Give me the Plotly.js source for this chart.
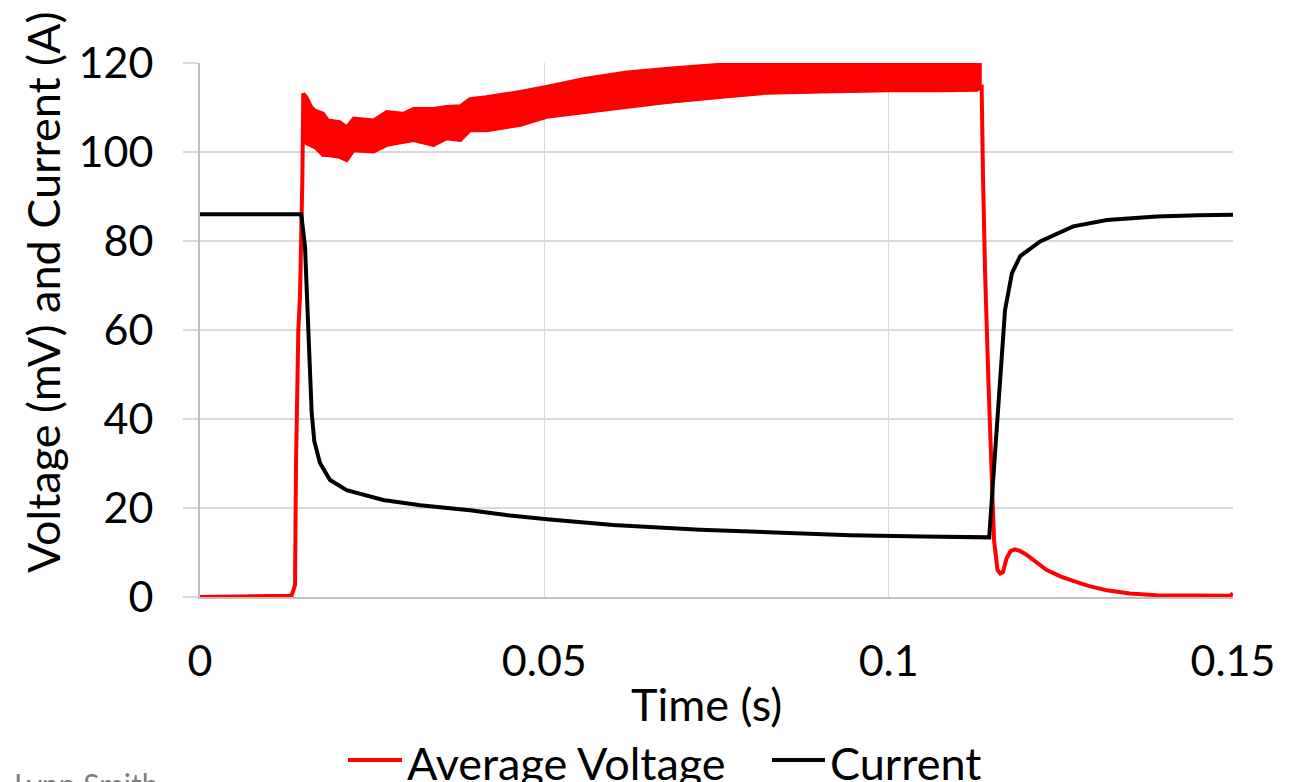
<!DOCTYPE html>
<html>
<head>
<meta charset="utf-8">
<script src="https://cdn.plot.ly/plotly-3.0.1.min.js"></script>
<style>html,body{margin:0;padding:0;background:#fff;}#chart{width:1301px;height:782px;}</style>
</head>
<body>
<div id="chart"></div>
<script>
// ---- Data ----
// Average Voltage (mV): rise before the noisy band
const voltRiseT = [0, 0.005, 0.010, 0.0133, 0.0138, 0.01394, 0.01428, 0.01452, 0.01486, 0.0150];
const voltRise  = [0, 0.1, 0.1, 0.3, 2.7, 30, 60, 67.5, 93.7, 113.2];
// Noisy band (upper / lower envelope of the oscillation)
const bandT     = [0.0150, 0.0155, 0.0162, 0.0167, 0.0179, 0.0186, 0.0203, 0.0213, 0.0223, 0.0252, 0.0271, 0.0295, 0.0310, 0.0339, 0.0358, 0.0378, 0.0392, 0.0416, 0.0465, 0.0503, 0.0560, 0.0620, 0.0680, 0.0750, 0.0820, 0.0900, 0.1000, 0.1080, 0.1128, 0.1133];
const bandUpper = [113.2, 112.4, 110.2, 109.4, 108.7, 107.2, 106.8, 105.7, 107.6, 107.2, 109.1, 108.7, 109.8, 109.8, 110.2, 110.4, 112.0, 112.4, 113.6, 114.7, 116.6, 118.0, 118.8, 119.6, 120.5, 121.0, 121.0, 121.0, 121.0, 121.0];
const bandLower = [113.2, 102.0, 101.4, 101.1, 99.3, 99.3, 98.9, 98.2, 100.4, 100.1, 101.6, 102.3, 102.7, 101.6, 103.1, 102.7, 104.9, 104.9, 106.1, 107.9, 109.0, 110.3, 111.3, 112.3, 113.3, 113.6, 113.9, 113.9, 114.0, 114.5];
// Fall and tail after the band
const voltFallT = [0.1135, 0.1137, 0.1140, 0.1145, 0.1150, 0.1153, 0.1158, 0.1162, 0.1166, 0.1171, 0.1177, 0.1183, 0.1190, 0.1200, 0.1229, 0.1250, 0.1268, 0.1290, 0.1317, 0.1350, 0.1389, 0.1450, 0.1496, 0.1500];
const voltFall  = [114.6, 94.5, 72.8, 47.8, 27.0, 12.8, 6.1, 5.3, 5.6, 8.6, 10.3, 10.7, 10.4, 9.5, 6.1, 4.6, 3.6, 2.5, 1.5, 0.8, 0.4, 0.3, 0.3, 0.8];

// Current (A)
const currT = [0, 0.005, 0.010, 0.0147, 0.01525, 0.01573, 0.01622, 0.0166, 0.01742, 0.01888, 0.0213, 0.0266, 0.0320, 0.0392, 0.0450, 0.0508, 0.0600, 0.0726, 0.0850, 0.0944, 0.1050, 0.1146, 0.1152, 0.1162, 0.1169, 0.1179, 0.1191, 0.1220, 0.1268, 0.1317, 0.1389, 0.1450, 0.1500];
const curr  = [86.0, 85.9, 86.0, 86.0, 78.7, 60.0, 41.3, 35.0, 30.1, 26.3, 24.0, 21.8, 20.6, 19.5, 18.3, 17.4, 16.2, 15.1, 14.3, 13.9, 13.6, 13.4, 26.9, 49.5, 64.5, 72.8, 76.6, 79.9, 83.3, 84.7, 85.5, 85.8, 85.9];

const xTickVals = [0, 0.05, 0.1, 0.15];
const xTickText = ['0', '0.05', '0.1', '0.15'];
const yTickVals = [0, 20, 40, 60, 80, 100, 120];
const yTickText = ['0', '20', '40', '60', '80', '100', '120'];

const seriesNames = ['Average Voltage', 'Current'];
const seriesColors = ['#ff0000', '#000000'];

// ---- Build traces ----
const FONT = 'Lato, "Open Sans", sans-serif';
const RED = seriesColors[0];

const voltX = voltRiseT.concat(bandT, voltFallT);
const voltY = voltRise.concat(bandLower, voltFall);

const bandPolyX = bandT.concat(bandT.slice().reverse());
const bandPolyY = bandUpper.concat(bandLower.slice().reverse());

const traces = [
  {
    x: bandPolyX, y: bandPolyY, type: 'scatter', mode: 'lines',
    fill: 'toself', fillcolor: RED, line: {color: RED, width: 3},
    showlegend: false, hoverinfo: 'skip'
  },
  {
    x: voltX, y: voltY, type: 'scatter', mode: 'lines', name: seriesNames[0],
    line: {color: RED, width: 4}, showlegend: false
  },
  {
    x: currT, y: curr, type: 'scatter', mode: 'lines', name: seriesNames[1],
    line: {color: seriesColors[1], width: 4}, showlegend: false
  }
];

// pixel helpers for the plot area (l=200, t=63, w=1033, h=534)
const px = p => (p - 200) / 1033;
const py = p => (597 - p) / 534;

// custom legend (placed below the axis title, like the reference)
const legendItems = [
  {x0: 348, x1: 402, tx: 405},
  {x0: 772, x1: 825, tx: 828}
];
const shapes = legendItems.map((it, i) => ({
  type: 'line', xref: 'paper', yref: 'paper',
  x0: px(it.x0), x1: px(it.x1), y0: py(760), y1: py(760),
  line: {color: seriesColors[i], width: 4}
}));
const legendTexts = legendItems.map((it, i) => ({
  text: seriesNames[i], xref: 'paper', yref: 'paper', x: px(it.tx), y: py(763),
  xanchor: 'left', yanchor: 'middle', showarrow: false,
  font: {family: FONT, size: 45, color: '#000000'}
}));

const layout = {
  width: 1301, height: 782,
  margin: {l: 200, r: 68, t: 63, b: 185},
  paper_bgcolor: '#ffffff', plot_bgcolor: '#ffffff',
  font: {family: FONT, size: 43, color: '#000000'},
  showlegend: false,
  xaxis: {
    range: [0, 0.15], tickmode: 'array', tickvals: xTickVals, ticktext: xTickText,
    showgrid: true, gridcolor: '#d9d9d9', gridwidth: 1.5,
    showline: true, linecolor: '#bfbfbf', linewidth: 2,
    ticks: '', ticklabelstandoff: 25, zeroline: false,
    tickfont: {family: FONT, size: 43, color: '#000000'},
    fixedrange: true
  },
  yaxis: {
    range: [0, 120], tickmode: 'array', tickvals: yTickVals, ticktext: yTickText,
    showgrid: true, gridcolor: '#d9d9d9', gridwidth: 1.5,
    showline: true, linecolor: '#bfbfbf', linewidth: 2,
    ticks: 'outside', ticklen: 15, tickcolor: '#d9d9d9', tickwidth: 1.5,
    ticklabelstandoff: 21, zeroline: false,
    tickfont: {family: FONT, size: 43, color: '#000000'},
    fixedrange: true
  },
  shapes: shapes,
  annotations: [
    {
      text: 'Time (s)', xref: 'paper', yref: 'paper', x: px(706), y: py(675),
      xanchor: 'center', yanchor: 'top', showarrow: false,
      font: {family: FONT, size: 45, color: '#000000'}
    },
    {
      text: 'Voltage (mV) and Current (A)', xref: 'paper', yref: 'paper',
      x: px(43), y: py(292), xanchor: 'center', yanchor: 'middle', textangle: -90,
      showarrow: false, font: {family: FONT, size: 45, color: '#000000'}
    },
    {
      text: 'Lynn Smith', xref: 'paper', yref: 'paper', x: px(12), y: py(764),
      xanchor: 'left', yanchor: 'top', showarrow: false,
      font: {family: FONT, size: 30, color: '#7f7f7f'}
    }
  ].concat(legendTexts)
};

Plotly.newPlot('chart', traces, layout, {staticPlot: true, displayModeBar: false});
</script>
</body>
</html>
